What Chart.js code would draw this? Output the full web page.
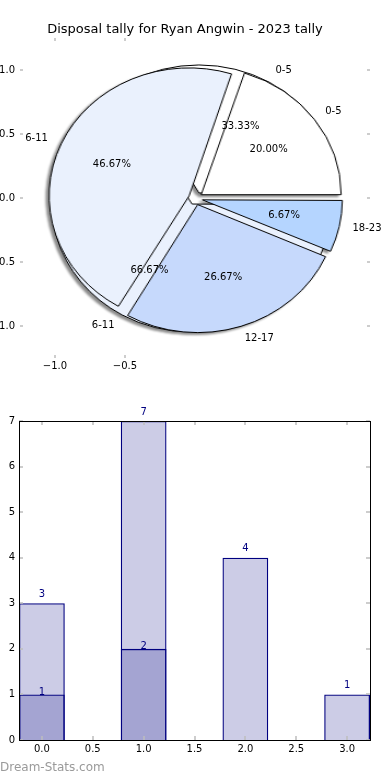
<!DOCTYPE html>
<html>
<head>
<meta charset="utf-8">
<title>Disposal tally</title>
<script src="https://cdn.jsdelivr.net/npm/chart.js@4.4.1/dist/chart.umd.min.js"></script>
<style>
  html, body { margin: 0; padding: 0; background: #fff; }
  #page { position: relative; width: 390px; height: 780px; overflow: hidden; }
  .layer { position: absolute; left: 0; }
  #pieShadow { position: absolute; left: 0; top: 0; width: 390px; height: 390px;
               filter: drop-shadow(-2.5px 2.5px 0.8px rgba(0, 0, 0, 0.45)); }
  #pieShadow canvas { position: absolute; transform-origin: 50% 50%; }
</style>
</head>
<body>
<div id="page">
  <div id="pieShadow">
    <canvas id="outerPie"></canvas>
    <canvas id="innerPie"></canvas>
  </div>
  <canvas id="pieAxes" class="layer" style="top:0" width="390" height="390"></canvas>
  <canvas id="barChart" class="layer" style="top:390px" width="390" height="390"></canvas>
</div>
<script>
const chartTitle = 'Disposal tally for Ryan Angwin - 2023 tally';
const categories = ['0-5', '6-11', '12-17', '18-23'];
const allDisposals = [3, 7, 4, 1];
const subsetDisposals = [1, 2];
const barPositions = [0, 1, 2, 3];
const pieXTicks = [-1.0, -0.5];
const pieYTicks = [1.0, 0.5, 0.0, -0.5, -1.0];
const barXTicks = [0, 0.5, 1, 1.5, 2, 2.5, 3];
const barYTicks = [0, 1, 2, 3, 4, 5, 6, 7];
const watermark = 'Dream-Stats.com';

const sliceColors = ['#ffffff', '#eaf1fd', '#c6d9fc', '#b5d5ff'];
const explode = 0.05;
const navy = '#000080';
const barFill = 'rgba(0, 0, 128, 0.2)';

Chart.defaults.font.family = "'DejaVu Sans', sans-serif";
Chart.defaults.font.size = 10;
Chart.defaults.color = '#000';
Chart.defaults.animation = false;

const fmt = v => v.toFixed(1).replace('-', '\u2212');

// small grey ticks pointing into the axes box, on all four sides
function innerTicks(chart, xVals, yVals, len) {
    const { ctx, chartArea: a, scales: { x, y } } = chart;
    ctx.save();
    ctx.strokeStyle = '#bdbdbd';
    ctx.lineWidth = 1.5;
    ctx.beginPath();
    xVals.forEach(v => {
        const px = Math.round(x.getPixelForValue(v));
        ctx.moveTo(px, a.top); ctx.lineTo(px, a.top + len);
        ctx.moveTo(px, a.bottom); ctx.lineTo(px, a.bottom - len);
    });
    yVals.forEach(v => {
        const py = Math.round(y.getPixelForValue(v));
        ctx.moveTo(a.left, py); ctx.lineTo(a.left + len, py);
        ctx.moveTo(a.right, py); ctx.lineTo(a.right - len, py);
    });
    ctx.stroke();
    ctx.restore();
}

// wedge labels and percentages, placed like matplotlib (angles counter-clockwise from east)
function drawPieText(chart, values, labels) {
    const { ctx, scales: { x, y } } = chart;
    const total = values.reduce((s, v) => s + v, 0);
    let startDeg = 0;
    ctx.save();
    ctx.fillStyle = '#000';
    ctx.font = "10px 'DejaVu Sans'";
    ctx.textBaseline = 'middle';
    values.forEach((v, i) => {
        const mid = (startDeg + v / total * 180) * Math.PI / 180;
        startDeg += v / total * 360;
        const c = Math.cos(mid), s = Math.sin(mid);
        const lr = 1.1 + explode, pr = 0.6 + explode;
        ctx.textAlign = c > 0 ? 'left' : 'right';
        ctx.fillText(labels[i], x.getPixelForValue(lr * c), y.getPixelForValue(lr * s));
        ctx.textAlign = 'center';
        ctx.fillText((v / total * 100).toFixed(2) + '%', x.getPixelForValue(pr * c), y.getPixelForValue(pr * s));
    });
    ctx.restore();
}

const pieText = {
    id: 'pieText',
    afterDraw(chart) {
        innerTicks(chart, pieXTicks, pieYTicks, 3);
        drawPieText(chart, subsetDisposals, categories.slice(0, subsetDisposals.length));
        drawPieText(chart, allDisposals, categories);
    }
};

const axesChart = new Chart(document.getElementById('pieAxes'), {
    type: 'scatter',
    data: { datasets: [] },
    options: {
        responsive: false,
        events: [],
        layout: { autoPadding: false, padding: { right: 20 } },
        plugins: {
            legend: { display: false },
            tooltip: { enabled: false },
            title: {
                display: true,
                text: chartTitle,
                color: '#000',
                font: { size: 13, weight: 'normal' },
                padding: { top: 22.2, bottom: 0.2 }
            }
        },
        scales: {
            x: {
                type: 'linear', min: -1.25, max: 1.25, offset: false,
                afterBuildTicks: ax => { ax.ticks = pieXTicks.map(v => ({ value: v })); },
                afterFit: ax => { ax.height = 32; },
                grid: { display: false, drawTicks: false },
                border: { display: false },
                ticks: { padding: 2, maxRotation: 0, callback: v => fmt(v) }
            },
            y: {
                type: 'linear', min: -1.25, max: 1.25,
                afterBuildTicks: ax => { ax.ticks = pieYTicks.map(v => ({ value: v })); },
                afterFit: ax => { ax.width = 20; },
                grid: { display: false, drawTicks: false },
                border: { display: false },
                ticks: { padding: 5, callback: v => fmt(v) }
            }
        }
    },
    plugins: [pieText]
});

// Chart.js enlarges small offset arcs; keep every wedge at the pie radius like an exploded matplotlib pie
const explodeFix = {
    id: 'explodeFix',
    beforeDatasetDraw(chart, args) {
        const R = args.meta.controller.outerRadius;
        args.meta.data.forEach(arc => {
            const shift = arc.options.offset / 4;
            const fix = 1 - Math.sin(Math.min(Math.PI, arc.circumference));
            arc.outerRadius = R - shift * fix;
        });
    }
};

const xs = axesChart.scales.x, ys = axesChart.scales.y;
const cx = xs.getPixelForValue(0), cy = ys.getPixelForValue(0);
const ry = cy - ys.getPixelForValue(1);
const rx = xs.getPixelForValue(1) - cx;
const side = Math.ceil(ry * 2.6);

function makePie(id, values, labels) {
    const canvas = document.getElementById(id);
    canvas.width = side;
    canvas.height = side;
    canvas.style.left = (cx - side / 2) + 'px';
    canvas.style.top = (cy - side / 2) + 'px';
    canvas.style.transform = 'scaleX(' + (rx / ry) + ')';
    // reversed + rotation 90 = matplotlib's counter-clockwise order starting at east
    return new Chart(canvas, {
        type: 'pie',
        data: {
            labels: labels.slice().reverse(),
            datasets: [{
                data: values.slice().reverse(),
                backgroundColor: sliceColors.slice(0, values.length).reverse(),
                borderColor: '#000',
                borderWidth: 1,
                offset: explode * 4 * ry,
                rotation: 90,
                radius: ry
            }]
        },
        options: {
            responsive: false,
            events: [],
            rotation: 90,
            radius: ry,
            plugins: { legend: { display: false }, tooltip: { enabled: false } }
        },
        plugins: [explodeFix]
    });
}

makePie('outerPie', subsetDisposals, categories.slice(0, subsetDisposals.length));
makePie('innerPie', allDisposals, categories);

const barDecor = {
    id: 'barDecor',
    afterDatasetsDraw(chart) {
        const { ctx, chartArea: a } = chart;
        innerTicks(chart, barXTicks, barYTicks, 4);
        ctx.save();
        ctx.strokeStyle = '#000';
        ctx.lineWidth = 1;
        ctx.strokeRect(Math.round(a.left) + 0.5, Math.round(a.top) + 0.5,
                       Math.round(a.right - a.left), Math.round(a.bottom - a.top));
        ctx.fillStyle = navy;
        ctx.font = "10px 'DejaVu Sans'";
        ctx.textAlign = 'center';
        ctx.textBaseline = 'middle';
        chart.data.datasets.forEach((ds, di) => {
            chart.getDatasetMeta(di).data.forEach((bar, i) => {
                ctx.fillText(String(ds.data[i].y), bar.x, bar.y - ds.labelOffset);
            });
        });
        ctx.restore();
    },
    afterDraw(chart) {
        const ctx = chart.ctx;
        ctx.save();
        ctx.fillStyle = '#9a9a9a';
        ctx.font = "12px 'DejaVu Sans'";
        ctx.textAlign = 'left';
        ctx.textBaseline = 'middle';
        ctx.fillText(watermark, 0, chart.height - 12);
        ctx.restore();
    }
};

new Chart(document.getElementById('barChart'), {
    type: 'bar',
    data: {
        datasets: [
            {
                data: subsetDisposals.map((v, i) => ({ x: barPositions[i], y: v })),
                backgroundColor: barFill, borderColor: navy, borderWidth: 1.3,
                labelOffset: 2.5
            },
            {
                data: allDisposals.map((v, i) => ({ x: barPositions[i], y: v })),
                backgroundColor: barFill, borderColor: navy, borderWidth: 1.3,
                labelOffset: 9
            }
        ]
    },
    options: {
        responsive: false,
        events: [],
        layout: { autoPadding: false, padding: { top: 31, right: 20 } },
        datasets: {
            bar: { grouped: false, barPercentage: 0.9, categoryPercentage: 1 }
        },
        plugins: { legend: { display: false }, tooltip: { enabled: false }, colors: { enabled: false } },
        scales: {
            x: {
                type: 'linear', min: -0.225, max: 3.225, offset: false,
                afterBuildTicks: ax => { ax.ticks = barXTicks.map(v => ({ value: v })); },
                afterFit: ax => { ax.height = 40; },
                grid: { display: false, drawTicks: false },
                border: { display: false },
                ticks: { padding: 3, maxRotation: 0, autoSkip: false, callback: v => v.toFixed(1) }
            },
            y: {
                type: 'linear', min: 0, max: 7,
                afterBuildTicks: ax => { ax.ticks = barYTicks.map(v => ({ value: v })); },
                afterFit: ax => { ax.width = 19; },
                grid: { display: false, drawTicks: false },
                border: { display: false },
                ticks: { padding: 4, callback: v => String(v) }
            }
        }
    },
    plugins: [barDecor]
});
</script>
</body>
</html>
